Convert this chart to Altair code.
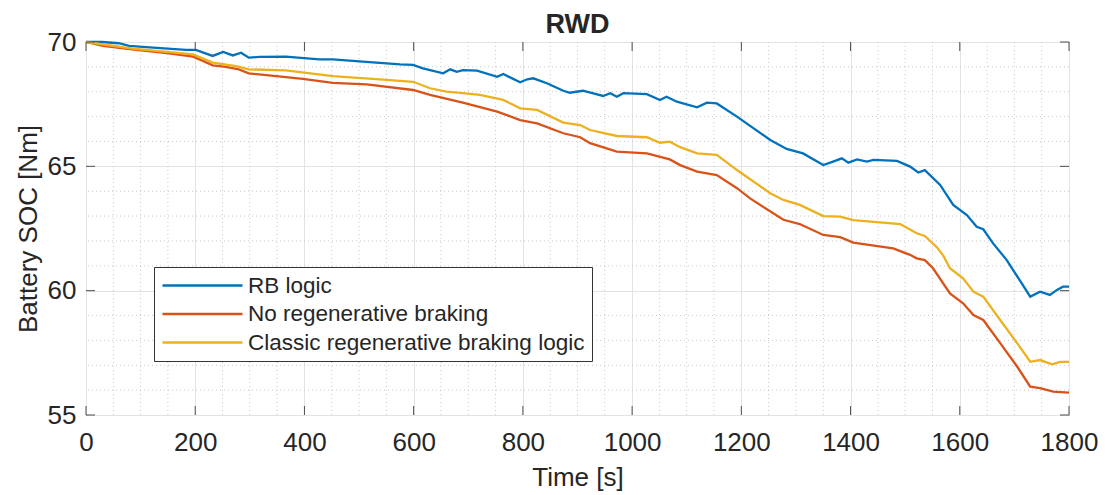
import altair as alt
import pandas as pd

# ---- data ----
series_names = ["RB logic", "No regenerative braking", "Classic regenerative braking logic"]
series_colors = ["#0072BD", "#D95319", "#EDB120"]

rb_t = [0, 30, 60, 79, 123, 183, 201, 232, 251, 269, 284, 298, 317, 366, 427, 452, 507, 575, 599, 617,
        654, 667, 679, 690, 716, 753, 764, 795, 808, 819, 844, 874, 886, 910, 947, 960, 972, 984, 1027,
        1051, 1063, 1082, 1119, 1137, 1155, 1192, 1253, 1283, 1313, 1350, 1368, 1384, 1396, 1412, 1430,
        1442, 1485, 1509, 1524, 1536, 1564, 1588, 1613, 1631, 1643, 1661, 1686, 1729, 1747, 1765, 1778,
        1789, 1800]
rb_v = [70.0, 70.0, 69.95, 69.84, 69.77, 69.68, 69.68, 69.44, 69.6, 69.46, 69.57, 69.37, 69.4, 69.41,
        69.3, 69.3, 69.21, 69.1, 69.08, 68.94, 68.74, 68.9, 68.8, 68.87, 68.85, 68.6, 68.71, 68.38, 68.5,
        68.54, 68.34, 68.04, 67.96, 68.04, 67.83, 67.94, 67.8, 67.94, 67.9, 67.67, 67.8, 67.6, 67.37,
        67.56, 67.53, 67.0, 66.06, 65.7, 65.52, 65.05, 65.19, 65.32, 65.15, 65.28, 65.19, 65.26, 65.22,
        64.99, 64.75, 64.85, 64.25, 63.45, 63.04, 62.57, 62.47, 61.9, 61.23, 59.76, 59.96, 59.83, 60.03,
        60.16, 60.16]

nr_t = [0, 31, 92, 152, 196, 214, 232, 256, 280, 298, 335, 397, 452, 514, 599, 630, 690, 753, 795, 826,
        874, 905, 923, 972, 1027, 1069, 1088, 1119, 1155, 1192, 1216, 1277, 1307, 1350, 1381, 1405, 1478,
        1509, 1521, 1536, 1551, 1582, 1606, 1625, 1643, 1674, 1705, 1729, 1747, 1771, 1800]
nr_v = [70.0, 69.84, 69.68, 69.54, 69.41, 69.24, 69.06, 69.0, 68.9, 68.74, 68.66, 68.52, 68.36, 68.3,
        68.07, 67.87, 67.56, 67.2, 66.86, 66.73, 66.33, 66.17, 65.93, 65.59, 65.52, 65.28, 65.05, 64.79,
        64.65, 64.12, 63.71, 62.85, 62.68, 62.24, 62.15, 61.93, 61.7, 61.44, 61.3, 61.23, 60.9, 59.89,
        59.49, 59.02, 58.82, 57.89, 56.95, 56.14, 56.08, 55.94, 55.9]

cl_t = [0, 86, 196, 232, 275, 298, 366, 452, 538, 599, 630, 660, 690, 721, 764, 795, 826, 874, 905, 923,
        972, 1027, 1051, 1069, 1088, 1119, 1155, 1192, 1253, 1277, 1307, 1350, 1381, 1405, 1491, 1521,
        1536, 1558, 1570, 1582, 1606, 1625, 1643, 1674, 1705, 1729, 1747, 1769, 1784, 1800]
cl_v = [70.0, 69.73, 69.5, 69.17, 69.03, 68.9, 68.86, 68.63, 68.5, 68.4, 68.14, 68.0, 67.94, 67.87, 67.67,
        67.33, 67.27, 66.76, 66.66, 66.46, 66.22, 66.17, 65.95, 65.99, 65.77, 65.52, 65.46, 64.85, 63.92,
        63.65, 63.45, 63.0, 62.98, 62.84, 62.68, 62.31, 62.2, 61.75, 61.4, 60.9, 60.5, 59.96, 59.76, 58.82,
        57.89, 57.14, 57.21, 57.04, 57.14, 57.14]

x_ticks = [0, 200, 400, 600, 800, 1000, 1200, 1400, 1600, 1800]
y_ticks = [55, 60, 65, 70]
x_minor = [50, 100, 150, 250, 300, 350, 450, 500, 550, 650, 700, 750, 850, 900, 950, 1050, 1100, 1150,
           1250, 1300, 1350, 1450, 1500, 1550, 1650, 1700, 1750]
y_minor = [56, 57, 58, 59, 61, 62, 63, 64, 66, 67, 68, 69]

# ---- tables ----
rows = []
for name, ts, vs in [(series_names[0], rb_t, rb_v), (series_names[1], nr_t, nr_v), (series_names[2], cl_t, cl_v)]:
    for t, v in zip(ts, vs):
        rows.append({"series": name, "t": t, "soc": v})
df = pd.DataFrame(rows)
df_xt = pd.DataFrame({"t": x_ticks})
df_yt = pd.DataFrame({"soc": y_ticks})
df_xm = pd.DataFrame({"t": x_minor})
df_ym = pd.DataFrame({"soc": y_minor})

W, H = 983, 373
FONT = "Liberation Sans"
FRAME = "#4d4d4d"
TXT = "#262626"

xs = alt.Scale(domain=[0, 1800], nice=False, zero=False)
ys = alt.Scale(domain=[55, 70], nice=False, zero=False)

xaxis = alt.Axis(values=x_ticks, title="Time [s]", grid=True, gridColor="#e3e3e3", domain=False,
                 ticks=False, labelFontSize=26, titleFontSize=26, labelPadding=14, titlePadding=9,
                 labelFont=FONT, titleFont=FONT, titleFontWeight="normal", labelColor=TXT,
                 titleColor=TXT, format="d", labelFlush=False)
yaxis = alt.Axis(values=y_ticks, title="Battery SOC [Nm]", grid=True, gridColor="#e3e3e3", domain=False,
                 ticks=False, labelFontSize=26, titleFontSize=26, labelPadding=10, titlePadding=6,
                 labelFont=FONT, titleFont=FONT, titleFontWeight="normal", labelColor=TXT,
                 titleColor=TXT, format="d", labelFlush=False)

minor_x = alt.Chart(df_xm).mark_rule(color="#c9c9c9", strokeDash=[1, 3], strokeWidth=1).encode(
    x=alt.X("t:Q", scale=xs, axis=xaxis))
minor_y = alt.Chart(df_ym).mark_rule(color="#c9c9c9", strokeDash=[1, 3], strokeWidth=1).encode(
    y=alt.Y("soc:Q", scale=ys, axis=yaxis))

lines = alt.Chart(df).mark_line(strokeWidth=2.3).encode(
    x=alt.X("t:Q", scale=xs, axis=xaxis),
    y=alt.Y("soc:Q", scale=ys, axis=yaxis),
    color=alt.Color("series:N",
                    scale=alt.Scale(domain=series_names, range=series_colors),
                    sort=series_names,
                    legend=alt.Legend(orient="none", legendX=68, legendY=225, title=None,
                                      symbolType="M-1,0H7", symbolSize=400, symbolStrokeWidth=2.3,
                                      labelOffset=64, labelFontSize=22.5, labelFont=FONT,
                                      labelColor=TXT, padding=7, rowPadding=5.5,
                                      strokeColor="#333333", fillColor="white", labelLimit=600)),
    order=alt.Order("t:Q"),
)

tick_b = alt.Chart(df_xt).mark_rule(color=FRAME, strokeWidth=1).encode(
    x=alt.X("t:Q", scale=xs), y=alt.value(H), y2=alt.value(H - 9))
tick_t = alt.Chart(df_xt).mark_rule(color=FRAME, strokeWidth=1).encode(
    x=alt.X("t:Q", scale=xs), y=alt.value(0), y2=alt.value(9))
tick_l = alt.Chart(df_yt).mark_rule(color=FRAME, strokeWidth=1).encode(
    y=alt.Y("soc:Q", scale=ys), x=alt.value(0), x2=alt.value(9))
tick_r = alt.Chart(df_yt).mark_rule(color=FRAME, strokeWidth=1).encode(
    y=alt.Y("soc:Q", scale=ys), x=alt.value(W), x2=alt.value(W - 9))

chart = alt.layer(minor_x, minor_y, lines, tick_b, tick_t, tick_l, tick_r).properties(
    width=W, height=H,
    title=alt.TitleParams("RWD", fontSize=27, fontWeight="bold", font=FONT, color=TXT,
                          anchor="middle", offset=4, dy=14),
    autosize=alt.AutoSizeParams(type="none"),
    padding={"left": 86, "top": 42, "right": 36, "bottom": 80},
    background="white",
).configure_view(stroke=FRAME, strokeWidth=1)

chart.save("out.html", embed_options={"renderer": "svg", "actions": False})
